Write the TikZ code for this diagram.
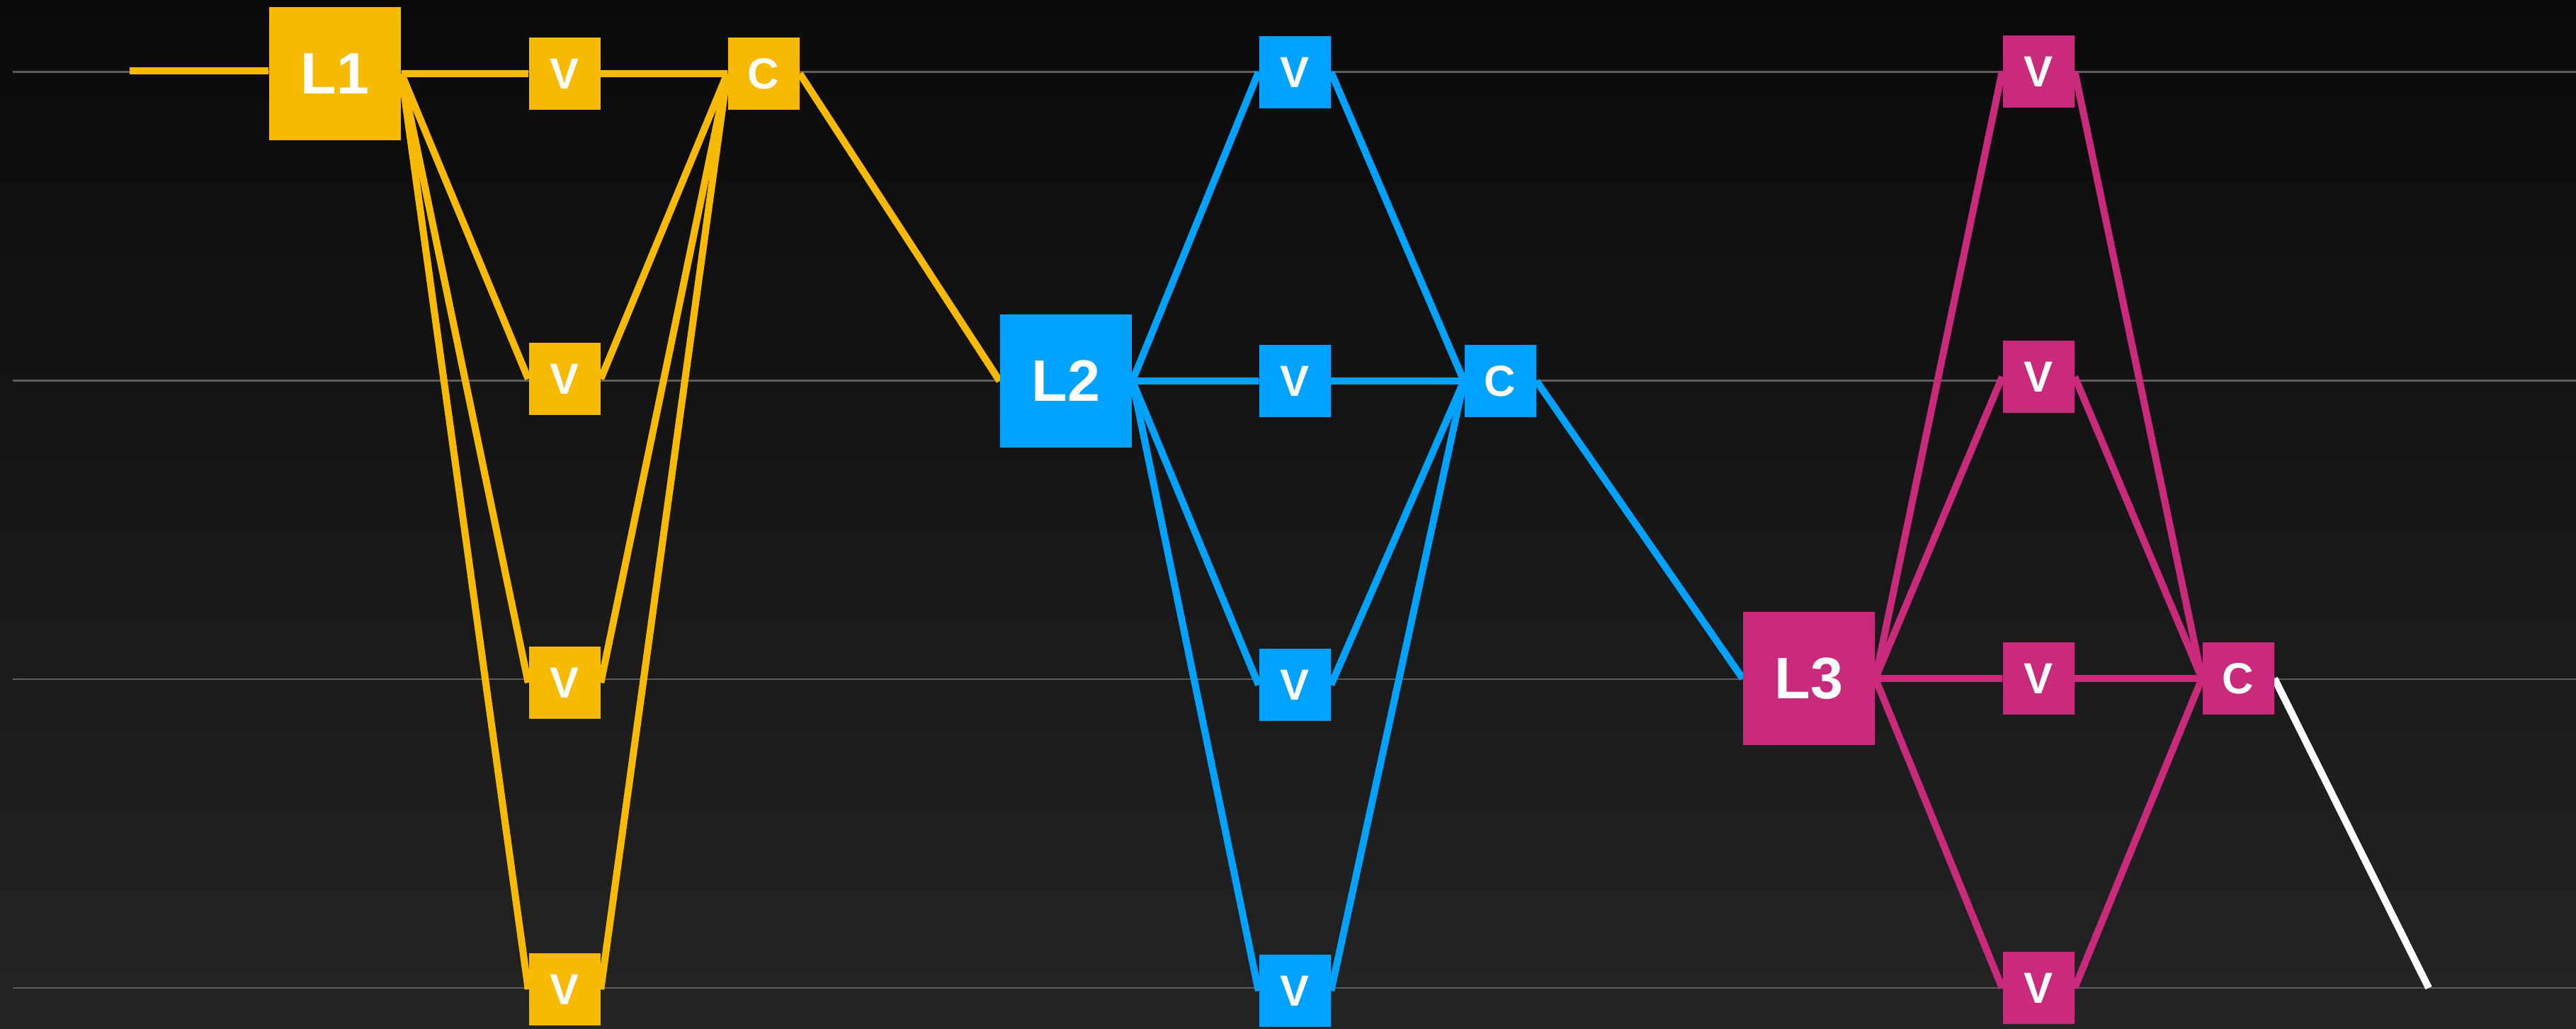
\documentclass[tikz,border=0pt]{standalone}
\usepackage{fontspec}
\setmainfont{Liberation Sans}
\usetikzlibrary{positioning, backgrounds}
\definecolor{layerA}{RGB}{248,186,0}
\definecolor{layerB}{RGB}{0,162,255}
\definecolor{layerC}{RGB}{201,42,123}
\definecolor{gridgray}{RGB}{92,92,92}
\pgfdeclarelayer{back}
\pgfsetlayers{back,background,main}

\begin{document}
\begin{tikzpicture}[x=1cm, y=-1cm,
  bignode/.style={minimum width=1.86cm, minimum height=1.88cm, inner sep=0pt,
    text=white, font=\bfseries\fontsize{23.5}{26}\selectfont},
  smallnode/.style={minimum width=1.01cm, minimum height=1.02cm, inner sep=0pt,
    text=white, font=\bfseries\fontsize{17.5}{20}\selectfont},
  link/.style={line width=2.85pt}]
\useasboundingbox (0,0) rectangle (36.37,14.53);
% Dark backdrop and row lines (drawn FIRST, on the back layer)
\begin{pgfonlayer}{back}
\shade[top color={rgb,255:red,10;green,10;blue,10}, bottom color={rgb,255:red,36;green,36;blue,36}]
  (0,0) rectangle (36.37,14.53);
\foreach \y in {1.02,5.38,9.59,13.95}
  \draw[gridgray, line width=0.85pt] (0.18,\y) -- (36.37,\y);
\end{pgfonlayer}
% First block
\node[bignode, fill=layerA] (L1) at (4.73,1.04) {L1};
\foreach \i/\y in {1/1.04,2/5.35,3/9.64,4/13.97}
  \node[smallnode, fill=layerA] (Va\i) at (7.97,\y) {V};
\node[smallnode, fill=layerA] (C1) at (10.78,1.04) {C};
% Second block
\node[bignode, fill=layerB] (L2) at (15.05,5.38) {L2};
\foreach \i/\y in {1/1.02,2/5.38,3/9.67,4/13.99}
  \node[smallnode, fill=layerB] (Vb\i) at (18.28,\y) {V};
\node[smallnode, fill=layerB] (C2) at (21.18,5.38) {C};
% Third block
\node[bignode, fill=layerC] (L3) at (25.54,9.58) {L3};
\foreach \i/\y in {1/1.01,2/5.32,3/9.58,4/13.95}
  \node[smallnode, fill=layerC] (Vc\i) at (28.78,\y) {V};
\node[smallnode, fill=layerC] (C3) at (31.60,9.58) {C};
% Free ends
\coordinate (in) at (1.83,1.00);
\coordinate (out) at (34.29,13.95);
% Connectors (behind the boxes)
\begin{pgfonlayer}{background}
\draw[link, layerA] (in) -- (in -| L1.west);
\foreach \i in {1,...,4}
  \draw[link, layerA] (L1.east) -- (Va\i.west) (Va\i.east) -- (C1.west);
\draw[link, layerA] (C1.east) -- (L2.west);
\foreach \i in {1,...,4}
  \draw[link, layerB] (L2.east) -- (Vb\i.west) (Vb\i.east) -- (C2.west);
\draw[link, layerB] (C2.east) -- (L3.west);
\foreach \i in {1,...,4}
  \draw[link, layerC] (L3.east) -- (Vc\i.west) (Vc\i.east) -- (C3.west);
\draw[link, white] (C3.east) -- (out);
\end{pgfonlayer}
\end{tikzpicture}
\end{document}
